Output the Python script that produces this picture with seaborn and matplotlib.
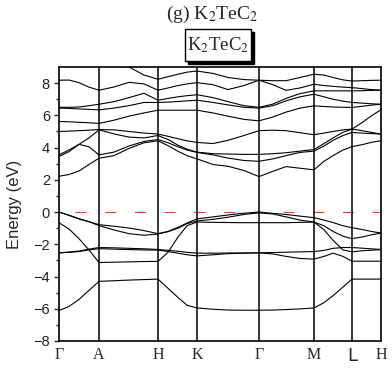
import numpy as np
import pandas as pd
import matplotlib
matplotlib.use("Agg")
import matplotlib.pyplot as plt
import seaborn as sns
from matplotlib.patches import Rectangle

sns.set_style("ticks")
plt.rcParams["mathtext.fontset"] = "stix"
plt.rcParams["lines.scale_dashes"] = False

# k-path sample positions (arbitrary path units)
k_path = [0, 10, 20, 30, 40, 55, 70, 85, 99, 109, 119, 128, 138, 154, 169, 185, 200,
          214, 227, 241, 255, 265, 274, 284, 293, 303, 312, 322]
hs_pos = [0, 40, 99, 138, 200, 255, 293, 322]
hs_labels = ["Γ", "A", "H", "K", "Γ", "M", "L", "H"]

# valence bands (eV)
vb1 = [-6.11, -5.86, -5.42, -4.86, -4.30, -4.26, -4.22, -4.19, -4.16, -4.73, -5.30, -5.78, -5.95,
       -6.03, -6.08, -6.09, -6.09, -6.08, -6.05, -6.01, -5.95, -5.62, -5.19, -4.65, -4.16, -4.16, -4.16, -4.16]
vb2 = [-0.66, -1.05, -1.65, -2.35, -3.13, -3.11, -3.09, -3.07, -3.06, -2.50, -1.55, -0.85, -0.62,
       -0.64, -0.65, -0.66, -0.66, -0.66, -0.66, -0.64, -0.62, -1.10, -1.75, -2.35, -2.47, -2.40, -2.37, -2.33]
vb3 = [-2.53, -2.48, -2.42, -2.30, -2.20, -2.22, -2.25, -2.28, -2.32, -2.38, -2.43, -2.50, -2.55,
       -2.55, -2.54, -2.54, -2.53, -2.51, -2.49, -2.47, -2.45, -2.38, -2.25, -2.20, -2.20, -2.24, -2.28, -2.32]
vb4 = [-2.53, -2.50, -2.45, -2.35, -2.27, -2.30, -2.33, -2.35, -2.36, -2.45, -2.55, -2.65, -2.72,
       -2.65, -2.58, -2.55, -2.53, -2.60, -2.75, -2.88, -2.92, -2.75, -2.55, -2.75, -3.05, -3.05, -3.05, -3.05]
vb5 = [0.00, -0.20, -0.42, -0.60, -0.78, -0.88, -0.99, -1.15, -1.34, -1.20, -0.95, -0.68, -0.42,
       -0.30, -0.18, -0.07, 0.00, -0.08, -0.15, -0.25, -0.35, -0.50, -0.65, -0.85, -0.97, -1.08, -1.20, -1.30]
vb6 = [0.00, -0.20, -0.42, -0.60, -0.84, -1.11, -1.34, -1.44, -1.36, -1.22, -1.00, -0.72, -0.55,
       -0.45, -0.32, -0.15, -0.05, -0.12, -0.30, -0.50, -0.62, -0.85, -1.20, -1.50, -1.65, -1.55, -1.42, -1.30]

# conduction bands (eV)
cb1 = [2.22, 2.33, 2.55, 2.95, 3.34, 3.50, 3.95, 4.30, 4.42, 4.12, 3.77, 3.50, 3.30,
       2.95, 2.84, 2.58, 2.20, 2.53, 2.82, 2.72, 2.62, 3.15, 3.50, 3.85, 4.06, 4.18, 4.32, 4.43]
cb2 = [3.45, 3.75, 4.20, 4.05, 3.55, 3.72, 4.10, 4.38, 4.50, 4.30, 4.05, 3.85, 3.70,
       3.55, 3.35, 3.20, 3.15, 3.30, 3.50, 3.70, 3.78, 4.10, 4.45, 4.75, 4.94, 4.90, 4.87, 4.84]
cb3 = [3.55, 3.85, 4.20, 4.60, 5.10, 4.85, 4.65, 4.60, 4.75, 4.50, 4.15, 3.90, 3.72,
       3.62, 3.60, 3.58, 3.58, 3.62, 3.68, 3.78, 3.88, 4.25, 4.60, 4.95, 5.15, 5.55, 5.95, 6.35]
cb4 = [5.00, 5.02, 5.05, 5.08, 5.12, 5.10, 5.00, 4.90, 4.84, 4.70, 4.55, 4.42, 4.32,
       4.25, 4.45, 4.75, 5.05, 5.08, 5.05, 4.92, 4.80, 4.90, 5.00, 5.10, 5.15, 5.05, 4.95, 4.84]
cb5 = [5.62, 5.60, 5.57, 5.54, 5.50, 5.70, 5.95, 6.15, 6.32, 6.32, 6.32, 6.32, 6.32,
       6.15, 5.95, 5.75, 5.66, 5.90, 6.20, 6.45, 6.59, 6.55, 6.52, 6.50, 6.49, 6.56, 6.63, 6.69]
cb6 = [6.45, 6.43, 6.40, 6.37, 6.34, 6.45, 6.60, 6.80, 6.80, 6.82, 6.86, 6.90, 6.94,
       6.80, 6.65, 6.50, 6.45, 6.60, 6.90, 7.15, 7.31, 7.15, 7.00, 6.88, 6.80, 6.76, 6.72, 6.69]
cb7 = [6.50, 6.50, 6.52, 6.60, 6.69, 6.85, 7.10, 7.37, 6.94, 7.05, 7.15, 7.22, 7.28,
       7.10, 6.85, 6.60, 6.50, 6.70, 7.05, 7.35, 7.52, 7.52, 7.52, 7.52, 7.52, 7.53, 7.55, 7.56]
cb8 = [8.18, 8.19, 8.03, 7.75, 7.56, 7.76, 8.05, 7.95, 7.56, 7.70, 7.85, 7.95, 8.03,
       7.90, 7.60, 7.85, 8.18, 7.90, 7.55, 7.70, 7.93, 7.85, 7.80, 7.75, 7.72, 7.66, 7.60, 7.56]
cb9 = [9.60, 9.60, 9.55, 9.50, 9.40, 9.30, 9.00, 8.50, 8.24, 8.40, 8.55, 8.68, 8.75,
       8.60, 8.35, 8.22, 8.18, 8.15, 8.15, 8.35, 8.55, 8.50, 8.35, 8.20, 8.13, 8.15, 8.17, 8.18]

bands = [vb1, vb2, vb3, vb4, vb5, vb6, cb1, cb2, cb3, cb4, cb5, cb6, cb7, cb8, cb9]

fig = plt.figure(figsize=(3.92, 3.68), dpi=100)
ax = fig.add_axes([59 / 392, 27 / 368, 322 / 392, 274 / 368])

for b in bands:
    sns.lineplot(x=k_path, y=b, color="black", linewidth=0.8, ax=ax,
                 estimator=None, sort=False, legend=False)

for p in hs_pos[1:-1]:
    ax.axvline(p, color="black", linewidth=1.1)

# Fermi level, short red runs
ax.axhline(0, color="#ff2a2a", linewidth=0.75, linestyle=(9.9, (7.9, 13.5)), zorder=1)

ax.set_xlim(hs_pos[0], hs_pos[-1])
ax.set_ylim(-8, 9)
ax.set_yticks(range(-8, 9, 2))
ax.set_yticks(range(-7, 9, 2), minor=True)
ax.set_xticks(hs_pos)
ax.set_xticklabels(hs_labels, family="Liberation Serif", fontsize=11.5)
ax.get_xticklabels()[6].set_family("DejaVu Sans")
ax.get_xticklabels()[6].set_fontsize(13)
ax.tick_params(axis="x", length=0, pad=4)
ax.tick_params(axis="y", which="major", direction="out", length=3.5, width=1, labelsize=10.5, pad=3)
ax.tick_params(axis="y", which="minor", direction="out", length=2, width=1)
for lab in ax.get_yticklabels():
    lab.set_family("Liberation Sans")
    lab.set_color("#222222")
for s in ax.spines.values():
    s.set_visible(True)
    s.set_linewidth(1.2)
    s.set_color("black")

ax.set_ylabel("Energy (eV)", family="Liberation Sans", fontsize=12, labelpad=8)

fig.text(212 / 392, 1 - 14 / 368, "(g) K$_2$TeC$_2$", ha="center", va="center",
         family="Liberation Serif", fontsize=14)

# labelled box with shadow
fig.patches.append(Rectangle((188 / 392, 1 - 64 / 368), 66 / 392, 32 / 368,
                             transform=fig.transFigure, facecolor="black", edgecolor="black", zorder=5))
fig.patches.append(Rectangle((185 / 392, 1 - 61 / 368), 66 / 392, 32 / 368,
                             transform=fig.transFigure, facecolor="white", edgecolor="black",
                             linewidth=1, zorder=6))
fig.text(218 / 392, 1 - 45 / 368, "K$_2$TeC$_2$", ha="center", va="center",
         family="Liberation Serif", fontsize=13.5, zorder=7)

fig.savefig("out.png", dpi=100)
